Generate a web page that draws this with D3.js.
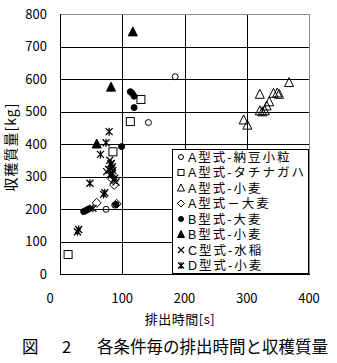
<!DOCTYPE html>
<html><head><meta charset="utf-8">
<script src="https://cdn.jsdelivr.net/npm/d3@7"></script>
<style>
html,body{margin:0;padding:0;background:#fff;}
svg text{font-family:"Noto Sans CJK JP","Noto Sans",sans-serif;fill:#000;}
svg text.lgt{font-family:"Liberation Sans","Noto Sans CJK JP",sans-serif;}
</style></head>
<body>
<svg id="c" width="337" height="363"></svg>
<script>
// ---- data ----
const xTicks = [0, 100, 200, 300, 400];
const yTicks = [0, 100, 200, 300, 400, 500, 600, 700, 800];
const seriesNames = ["A型式-納豆小粒", "A型式-タチナガハ", "A型式-小麦", "A型式－大麦", "B型式-大麦", "B型式-小麦", "C型式-水稲", "D型式-小麦"];
const seriesSymbols = ["circleOpen", "squareOpen", "triangleOpen", "diamondOpen", "circleFilled", "triangleFilled", "cross", "asterisk"];
const nattoA = [[185,607],[142,466],[74,199],[88,212]];
const tachinagahaA = [[130,537],[113,469],[85,376],[13,60]];
const wheatA = [[295,474],[301,458],[321,502],[325,499],[329,502],[332,517],[336,530],[321,553],[343,556],[349,557],[352,553],[368,589]];
const barleyA = [[87,274],[59,219],[91,216],[84,292]];
const barleyB = [[113,561],[116,556],[119,547],[119,512],[99,392],[38,192],[41,195],[44,198],[47,201],[90,214]];
const wheatB = [[117,745],[82,575],[59,400]];
const riceC = [[80,350],[82,338],[84,330],[75,315],[85,318],[80,305],[88,295],[86,289],[90,283],[83,325],[78,322]];
const wheatD = [[79,438],[74,404],[65,368],[48,279],[72,250],[70,245],[28,130],[30,137],[53,202],[82,340],[80,320],[84,310]];
const seriesData = [nattoA, tachinagahaA, wheatA, barleyA, barleyB, wheatB, riceC, wheatD];
const xTitle = "排出時間[s]";
const yTitle = "収穫質量[kg]";
const captionHead = "図";
const captionNum = "2";
const captionBody = "各条件毎の排出時間と収穫質量";

// ---- layout ----
const svg = d3.select("#c");
const L = 60, R = 309, T = 14, B = 274;
const x = d3.scaleLinear().domain([0, 400]).range([L, R]);
const y = d3.scaleLinear().domain([0, 800]).range([B, T]);

// gridlines
const g = svg.append("g");
g.selectAll("line.gx").data(xTicks.filter(d => d > 0 && d < 400)).join("line")
  .attr("x1", d => Math.round(x(d)) + 0.5).attr("x2", d => Math.round(x(d)) + 0.5)
  .attr("y1", T).attr("y2", B).attr("stroke", "#000").attr("stroke-width", 1);
g.selectAll("line.gy").data(yTicks.filter(d => d > 0 && d < 800)).join("line")
  .attr("y1", d => Math.round(y(d)) + 0.5).attr("y2", d => Math.round(y(d)) + 0.5)
  .attr("x1", L).attr("x2", R).attr("stroke", "#000").attr("stroke-width", 1);
// frame: top/right gray, left/bottom black
svg.append("line").attr("x1", L).attr("x2", R + 0.5).attr("y1", T + 0.5).attr("y2", T + 0.5).attr("stroke", "#8c8c8c");
svg.append("line").attr("x1", R + 0.5).attr("x2", R + 0.5).attr("y1", T).attr("y2", B + 1).attr("stroke", "#8c8c8c");
svg.append("line").attr("x1", L + 0.5).attr("x2", L + 0.5).attr("y1", T).attr("y2", B + 1).attr("stroke", "#000");
svg.append("line").attr("x1", L).attr("x2", R + 1).attr("y1", B + 0.5).attr("y2", B + 0.5).attr("stroke", "#000");

// tick labels
svg.append("g").selectAll("text").data(yTicks).join("text")
  .attr("x", 47).attr("y", d => y(d)).attr("dy", "0.36em")
  .attr("text-anchor", "end").attr("font-size", 13).text(d => d);
svg.append("g").selectAll("text").data(xTicks).join("text")
  .attr("x", d => x(d) + (d === 0 ? -10 : 0)).attr("y", 298).attr("dy", "0.36em")
  .attr("text-anchor", "middle").attr("font-size", 13).text(d => d);

// titles
svg.append("text").attr("x", 180).attr("y", 319).attr("dy", "0.36em")
  .attr("text-anchor", "middle").attr("font-size", 13).attr("letter-spacing", 0.5).text(xTitle);
svg.append("text").attr("transform", "translate(11,147) rotate(-90)").attr("dy", "0.36em")
  .attr("text-anchor", "middle").attr("font-size", 14).attr("letter-spacing", 1).text(yTitle);
const cap = svg.append("text").attr("y", 347).attr("dy", "0.36em").attr("font-size", 16.5);
cap.append("tspan").attr("x", 22).text(captionHead);
cap.append("tspan").attr("x", 62).text(captionNum);
cap.append("tspan").attr("x", 97).text(captionBody);

// markers
function drawMarker(sel, type, s) {
  const h = s / 2;
  if (type === "circleOpen" || type === "circleFilled") {
    sel.append("circle").attr("r", h - 0.5)
      .attr("fill", type === "circleFilled" ? "#000" : "none").attr("stroke", "#000");
  } else if (type === "squareOpen") {
    sel.append("rect").attr("x", -h).attr("y", -h).attr("width", s).attr("height", s)
      .attr("fill", "none").attr("stroke", "#000");
  } else if (type === "triangleOpen" || type === "triangleFilled") {
    sel.append("path").attr("d", `M0,${-h - 1}L${h + 0.5},${h}L${-h - 0.5},${h}Z`)
      .attr("fill", type === "triangleFilled" ? "#000" : "none").attr("stroke", "#000");
  } else if (type === "diamondOpen") {
    sel.append("path").attr("d", `M0,${-h - 0.5}L${h + 0.5},0L0,${h + 0.5}L${-h - 0.5},0Z`)
      .attr("fill", "none").attr("stroke", "#000");
  } else if (type === "cross") {
    sel.append("path").attr("d", `M${-h},${-h}L${h},${h}M${h},${-h}L${-h},${h}`)
      .attr("stroke", "#000").attr("stroke-width", 1.2);
  } else if (type === "asterisk") {
    sel.append("path").attr("d", `M${-h},${-h}L${h},${h}M${h},${-h}L${-h},${h}M0,${-h - 0.5}L0,${h + 0.5}`)
      .attr("stroke", "#000").attr("stroke-width", 1.3);
  }
}
const sizes = { circleOpen: 7, squareOpen: 8, triangleOpen: 8, diamondOpen: 8, circleFilled: 7, triangleFilled: 8, cross: 7, asterisk: 7 };
seriesData.forEach((data, i) => {
  const type = seriesSymbols[i];
  svg.append("g").selectAll("g").data(data).join("g")
    .attr("transform", d => `translate(${x(d[0])},${y(d[1])})`)
    .each(function () { drawMarker(d3.select(this), type, sizes[type]); });
});

// legend
const lg = svg.append("g");
lg.append("rect").attr("x", 172.5).attr("y", 149.5).attr("width", 136).attr("height", 124)
  .attr("fill", "#fff").attr("stroke", "#000");
seriesNames.forEach((name, i) => {
  const cy = 157 + i * 15.5;
  const m = lg.append("g").attr("transform", `translate(181,${cy})`);
  drawMarker(m, seriesSymbols[i], 6);
  lg.append("text").attr("class", "lgt").attr("x", 188).attr("y", cy).attr("dy", "0.36em")
    .attr("font-size", 12.5).attr("letter-spacing", 2).text(name);
});
</script>
</body></html>
